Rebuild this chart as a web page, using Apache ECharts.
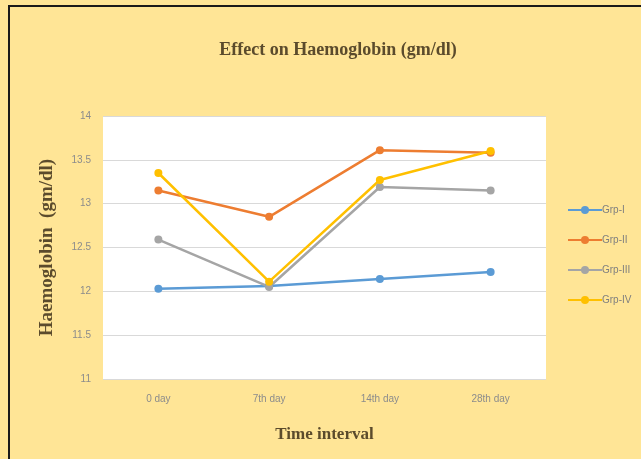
<!DOCTYPE html>
<html>
<head>
<meta charset="utf-8">
<script src="https://cdn.jsdelivr.net/npm/echarts@6/dist/echarts.min.js"></script>
<style>
  html, body { margin: 0; padding: 0; background: #fdf3d6; }
  #chart { width: 641px; height: 459px; }
</style>
</head>
<body>
<div id="chart"></div>
<script>
// Haemoglobin (gm/dl) by group over the study period
const categories = ['0 day', '7th day', '14th day', '28th day'];
const grp1 = [12.03, 12.06, 12.14, 12.22];
const grp2 = [13.15, 12.85, 13.61, 13.58];
const grp3 = [12.59, 12.05, 13.19, 13.15];
const grp4 = [13.35, 12.11, 13.27, 13.60];
const seriesNames = ['Grp-I', 'Grp-II', 'Grp-III', 'Grp-IV'];
const seriesColors = ['#5B9BD5', '#ED7D31', '#A5A5A5', '#FFC000'];

const chart = echarts.init(document.getElementById('chart'), null, { renderer: 'canvas' });

const makeSeries = (name, data, color) => ({
  name: name,
  type: 'line',
  data: data,
  symbol: 'circle',
  symbolSize: 8,
  lineStyle: { width: 2.5, color: color },
  itemStyle: { color: color },
  emphasis: { disabled: true }
});

chart.setOption({
  animation: false,
  backgroundColor: '#FFE596',
  title: {
    text: 'Effect on Haemoglobin (gm/dl)',
    left: 333,
    top: 36,
    textAlign: 'center',
    textStyle: {
      fontFamily: 'Liberation Serif',
      fontWeight: 'bold',
      fontSize: 18,
      color: '#5b4b2c'
    }
  },
  legend: {
    orient: 'vertical',
    left: 562,
    top: 200,
    itemGap: 20,
    itemWidth: 34,
    itemHeight: 10,
    textStyle: { fontFamily: 'Liberation Sans Narrow, Liberation Sans', fontSize: 10, color: '#7f7f7f', padding: [0, 0, 0, -5] },
    data: seriesNames
  },
  grid: {
    left: 103,
    right: 95,
    top: 116,
    bottom: 80,
    show: true,
    backgroundColor: '#ffffff',
    borderWidth: 0
  },
  xAxis: {
    type: 'category',
    data: categories,
    boundaryGap: true,
    name: 'Time interval',
    nameLocation: 'middle',
    nameGap: 47,
    nameTextStyle: {
      fontFamily: 'Liberation Serif',
      fontWeight: 'bold',
      fontSize: 17,
      color: '#5b4b2c'
    },
    axisLine: { show: false },
    axisTick: { show: false },
    axisLabel: { color: '#8c8c8c', fontSize: 10, margin: 15, fontFamily: 'Liberation Sans Narrow, Liberation Sans' }
  },
  yAxis: {
    type: 'value',
    min: 11,
    max: 14,
    interval: 0.5,
    name: 'Haemoglobin  (gm/dl)',
    nameLocation: 'middle',
    nameRotate: 90,
    nameGap: 46,
    nameTextStyle: {
      fontFamily: 'Liberation Serif',
      fontWeight: 'bold',
      fontSize: 19,
      color: '#5b4b2c'
    },
    axisLine: { show: false },
    axisTick: { show: false },
    axisLabel: { color: '#8c8c8c', fontSize: 10, margin: 12, fontFamily: 'Liberation Sans Narrow, Liberation Sans' },
    splitLine: { lineStyle: { color: '#d9d9d9', width: 1 } }
  },
  series: [
    makeSeries(seriesNames[0], grp1, seriesColors[0]),
    makeSeries(seriesNames[1], grp2, seriesColors[1]),
    makeSeries(seriesNames[2], grp3, seriesColors[2]),
    makeSeries(seriesNames[3], grp4, seriesColors[3])
  ],
  graphic: [
    {
      type: 'polyline',
      shape: { points: [[9, 470], [9, 6], [650, 6]] },
      style: { stroke: '#1a1a1a', lineWidth: 2, fill: null },
      silent: true
    }
  ]
});
</script>
</body>
</html>
